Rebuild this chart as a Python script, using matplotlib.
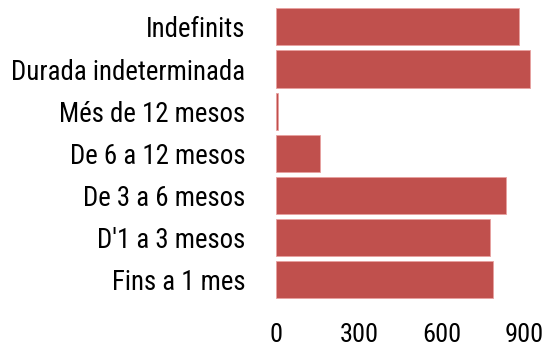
import matplotlib
matplotlib.use("Agg")
import matplotlib.pyplot as plt

categories = ["Indefinits", "Durada indeterminada", "Més de 12 mesos",
              "De 6 a 12 mesos", "De 3 a 6 mesos", "D'1 a 3 mesos", "Fins a 1 mes"]
values = [881, 920, 7, 159, 833, 776, 785]
xticks = [0, 300, 600, 900]

FONT = ["Roboto Condensed", "DejaVu Sans"]

fig = plt.figure(figsize=(5.49, 3.49), dpi=100)
ax = fig.add_axes([276 / 549, 0.138, (535.5 - 276) / 549, 0.9834 - 0.138])

pos = list(range(len(categories)))[::-1]
ax.barh(pos, values, height=0.88, color="#c0504d", edgecolor="#e8a0a0", linewidth=0.6)

ax.set_xlim(0, 940)
ax.set_ylim(-0.5, len(categories) - 0.5)
ax.set_yticks(pos)
ax.set_yticklabels(categories, family=FONT, fontsize=19.4)
ax.set_xticks(xticks)
ax.set_xticklabels([str(t) for t in xticks], family=FONT, fontsize=19)
ax.tick_params(axis="y", length=0, pad=22)
ax.tick_params(axis="x", length=0, pad=16)
for s in ax.spines.values():
    s.set_visible(False)

fig.savefig("out.png", dpi=100)
